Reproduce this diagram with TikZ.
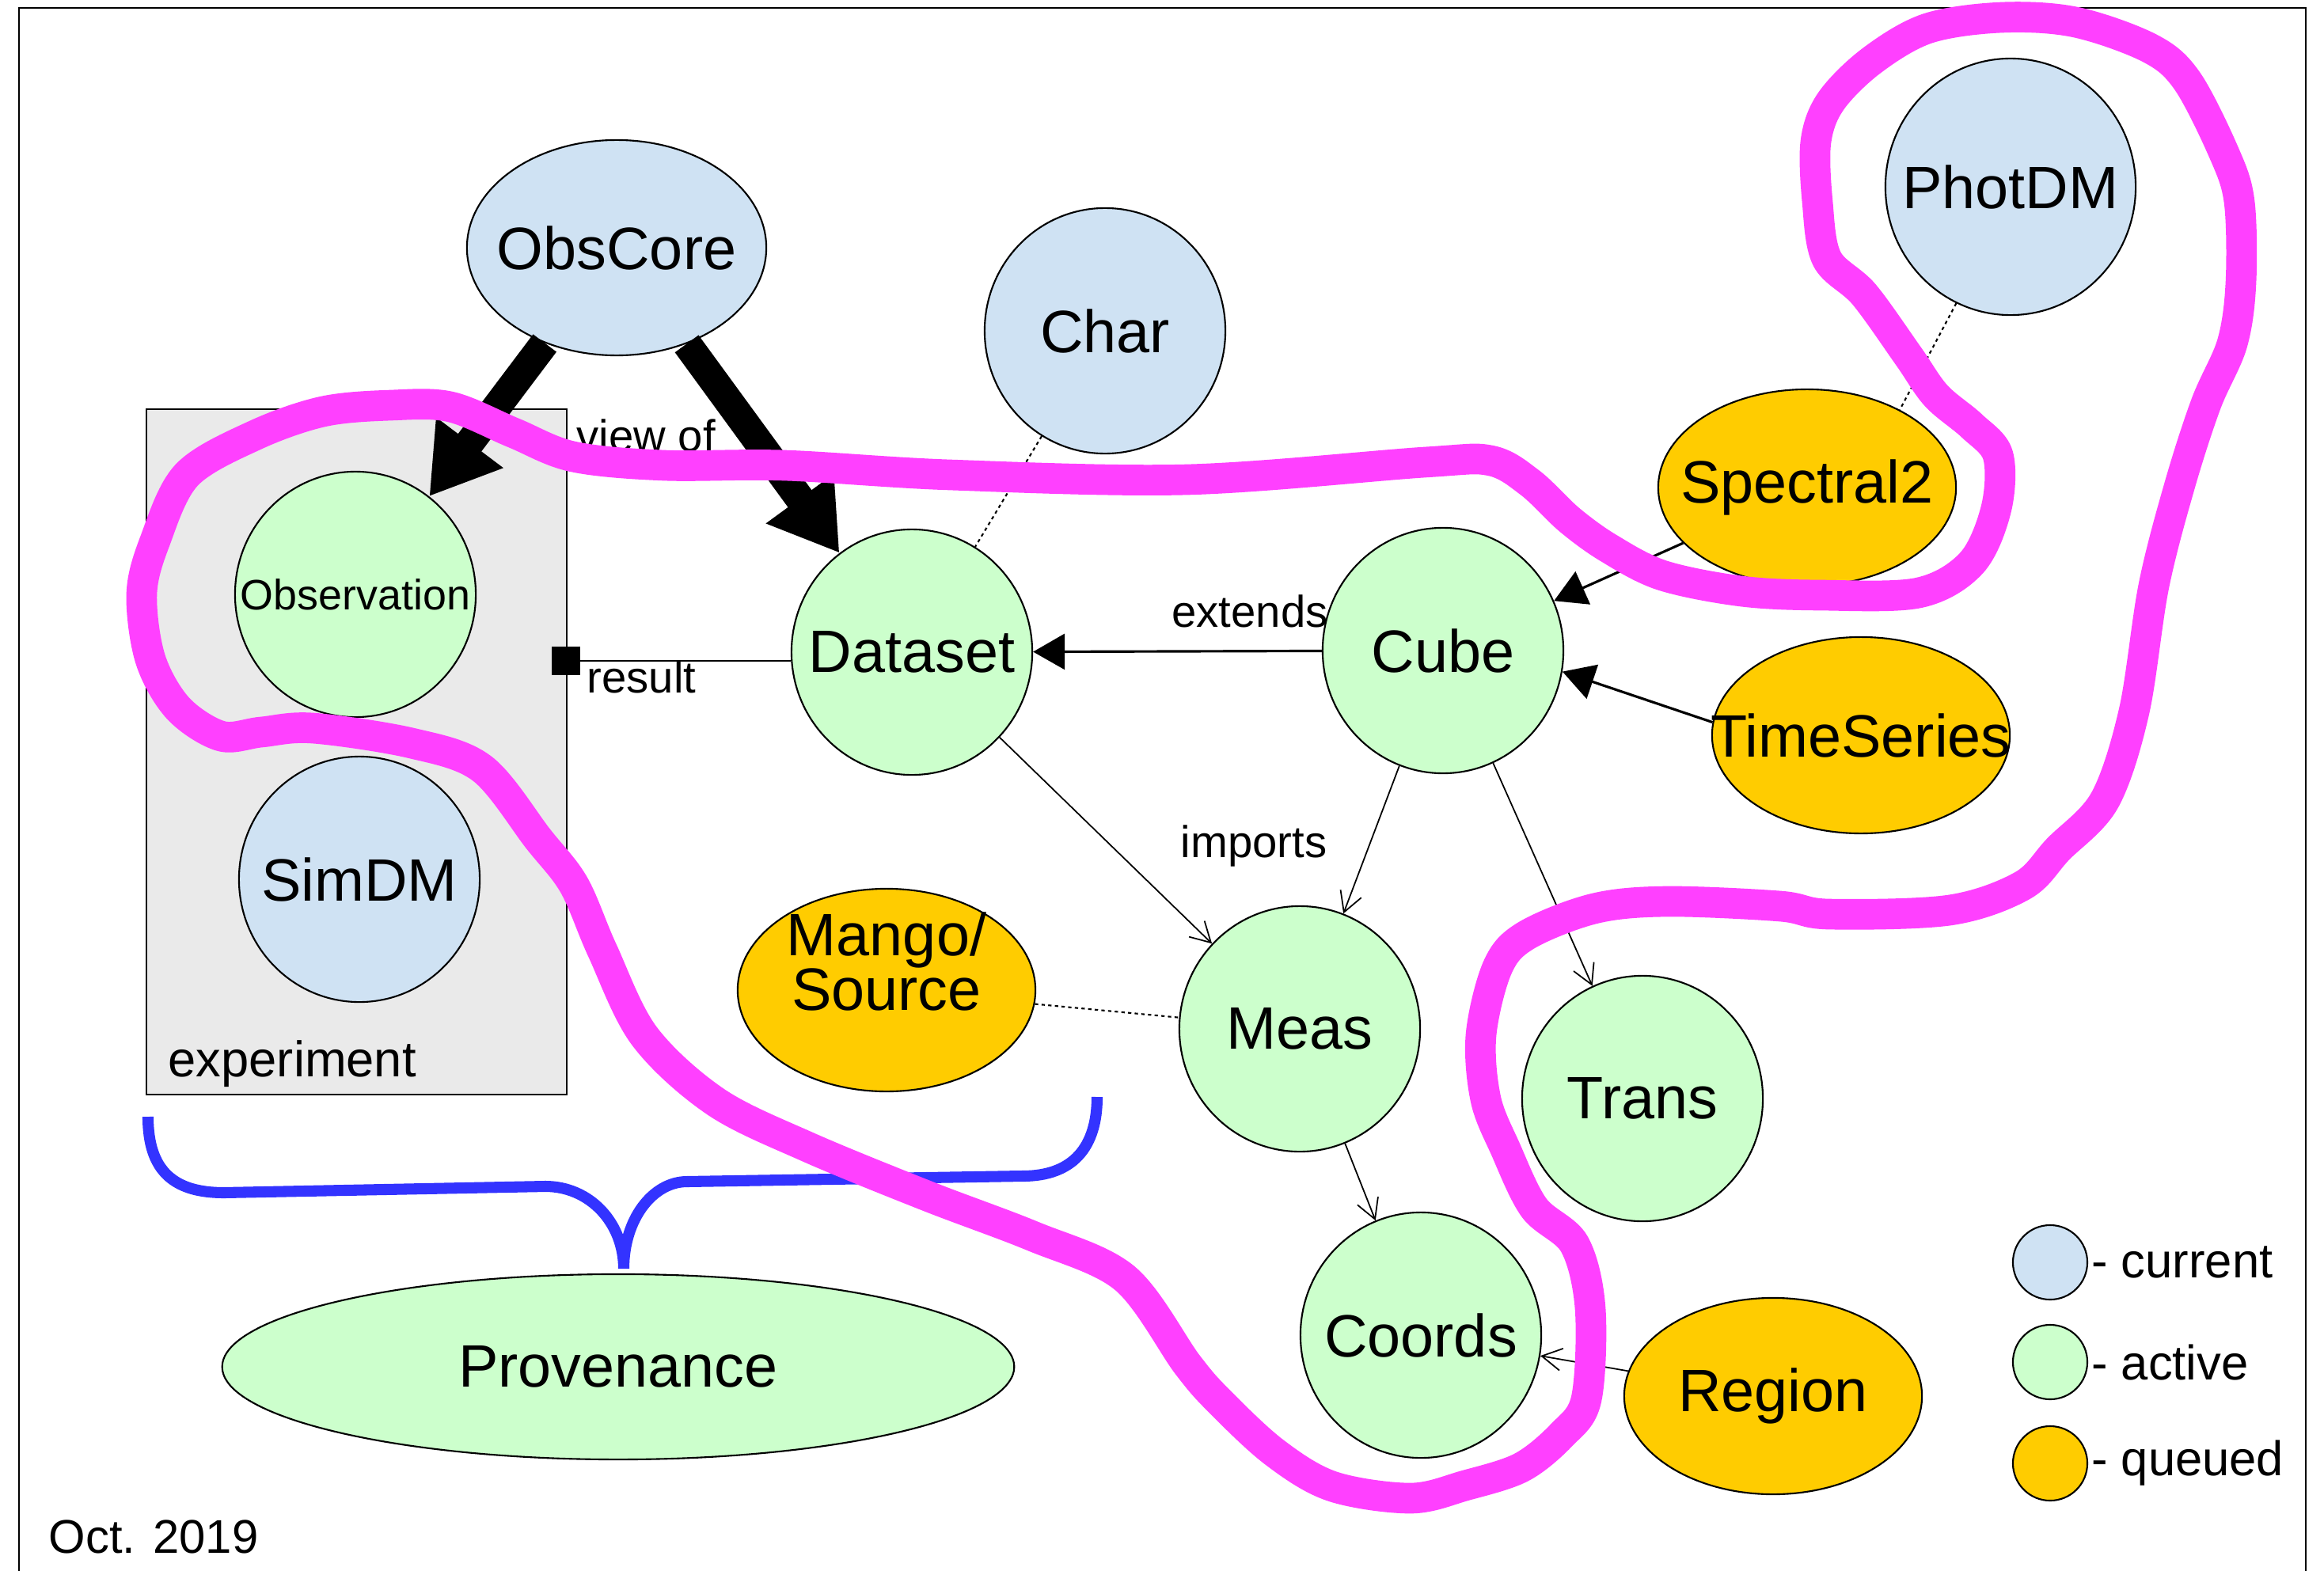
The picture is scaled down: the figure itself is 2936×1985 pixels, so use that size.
\documentclass[tikz,border=0pt]{standalone}
\usepackage{fontspec}
\setmainfont{Liberation Sans}
\usetikzlibrary{shapes.geometric,arrows.meta}
\definecolor{curblue}{RGB}{207,226,243}
\definecolor{actgreen}{RGB}{204,255,204}
\definecolor{quegold}{RGB}{255,204,0}
\definecolor{hilite}{RGB}{255,64,255}
\definecolor{bracblue}{RGB}{51,51,255}
\definecolor{boxgray}{RGB}{234,234,234}
\newcommand{\nm}[1]{\makebox[0pt]{#1}}
\tikzset{
    mdl/.style={ellipse,draw=black,line width=.6pt,inner sep=0pt,
        font=\fontsize{21.5}{24}\selectfont},
    cur/.style={mdl,fill=curblue},
    act/.style={mdl,fill=actgreen},
    que/.style={mdl,fill=quegold},
    rnd/.style={minimum width=3.04cm,minimum height=3.1cm},
    ovl/.style={minimum width=3.76cm,minimum height=2.48cm},
    lbl/.style={font=\fontsize{16}{18}\selectfont,inner sep=0pt},
    viewarr/.style={line width=10.5pt,-{Triangle[length=.85cm,width=1cm]}},
    extarr/.style={line width=.9pt,-{Triangle[length=.4cm,width=.45cm]}},
    imparr/.style={line width=.5pt,-{Straight Barb[length=.25cm,width=.28cm]}},
    dotlink/.style={line width=.6pt,dash pattern=on 1.2pt off 1.2pt},
    keydot/.style={circle,draw=black,line width=.6pt,minimum size=.94cm,inner sep=0pt},
    keytxt/.style={font=\fontsize{17.5}{20}\selectfont,inner sep=1pt,anchor=west},
}
\begin{document}
\begin{tikzpicture}[x=.01cm,y=-.01cm]
    \useasboundingbox (0,0) rectangle (2936,1985);
    % khung
    \draw[line width=.8pt] (24,1985)--(24,10)--(2913,10)--(2913,1985);
    % hop experiment
    \draw[fill=boxgray,line width=.6pt] (185,517) rectangle (716,1383);
    \node[anchor=base west,inner sep=0pt,font=\fontsize{18}{20}\selectfont]
        (explbl) at (212,1360) {experiment};
    % cac mo hinh
    \node[cur,minimum width=3.78cm,minimum height=2.72cm] (obscore) at (779,313) {\nm{ObsCore}};
    \node[cur,rnd] (char) at (1396,418) {\nm{Char}};
    \node[cur,minimum width=3.16cm,minimum height=3.24cm] (photdm) at (2540,236) {\nm{PhotDM}};
    \node[act,rnd,font=\fontsize{15.3}{17}\selectfont] (obs) at (449,751) {\nm{Observation}};
    \node[cur,rnd] (simdm) at (454,1111) {\nm{SimDM}};
    \node[act,rnd] (dataset) at (1152,824) {\nm{Dataset}};
    \node[act,rnd] (cube) at (1823,822) {\nm{Cube}};
    \node[que,ovl] (spec) at (2283,616) {\nm{Spectral2}};
    \node[que,ovl] (tseries) at (2351,929) {\nm{TimeSeries}};
    \node[que,ovl,minimum height=2.56cm] (mango) at (1120,1251) {};
    \node[align=center,anchor=north,inner sep=0pt,font=\fontsize{21.5}{19.5}\selectfont]
        (mangotxt) at (1120,1152) {Mango/\\Source};
    \node[act,rnd] (meas) at (1642,1300) {\nm{Meas}};
    \node[act,rnd] (trans) at (2075,1388) {\nm{Trans}};
    \node[act,rnd] (coords) at (1795,1687) {\nm{Coords}};
    \node[que,ovl] (region) at (2240,1764) {\nm{Region}};
    \node[act,minimum width=10cm,minimum height=2.34cm] (prov) at (781,1727) {\nm{Provenance}};
    % lien ket
    \draw[viewarr] (obscore)--(obs);
    \draw[viewarr] (obscore)--(dataset);
    \node[lbl,anchor=base west] (viewlbl) at (728,570) {view of};
    \node[fill=black,minimum size=.35cm,inner sep=0pt] (res) at (715,835) {};
    \draw[line width=.7pt] (res)--(res -| dataset.west);
    \node[lbl,anchor=base west] (reslbl) at (741,875) {result};
    \draw[extarr] (cube)--(dataset);
    \node[lbl,anchor=base] (extlbl) at (1579,792) {extends};
    \draw[extarr] (spec)--(cube);
    \draw[extarr] (tseries.175)--(cube.350);
    \draw[imparr] (dataset)--(meas);
    \draw[imparr] (cube)--(meas);
    \node[lbl,anchor=base] (implbl) at (1584,1083) {imports};
    \draw[imparr] (cube)--(trans);
    \draw[imparr] (meas)--(coords);
    \draw[imparr] (region)--(coords);
    \draw[dotlink] (char)--(dataset);
    \draw[dotlink] (photdm.245)--(spec.40);
    \draw[dotlink] (mango)--(meas);
    % chu thich
    \node[keydot,fill=curblue] (kcur) at (2590,1595) {};
    \node[keydot,fill=actgreen] (kact) at (2590,1721) {};
    \node[keydot,fill=quegold] (kque) at (2590,1849) {};
    \node[keytxt] (tcur) at (kcur.east) {- current};
    \node[keytxt] (tact) at (kact.east) {- active};
    \node[keytxt] (tque) at (kque.east) {- queued};
    \node[anchor=base west,inner sep=0pt,font=\fontsize{17}{19}\selectfont]
        (date) at (61,1962) {Oct. 2019};
    % ngoac xanh
    \draw[draw=bracblue,line width=4pt]
        (187,1411) .. controls (187,1480) and (220,1507) .. (283,1507)
        --(689,1499) .. controls (745,1499) and (788,1545) .. (788,1603)
        .. controls (788,1540) and (825,1493) .. (868,1493)
        --(1292,1486) .. controls (1355,1486) and (1386,1450) .. (1386,1386);
    % duong tim
    \draw[hilite,line width=11pt,line join=round]
        plot[smooth cycle,tension=.55] coordinates {
        (569,514) (649,547) (724,577) (839,588) (991,588) (1200,600)
        (1500,606) (1800,584) (1883,582) (1933,610) (1983,657) (2033,693)
        (2100,727) (2200,747) (2300,752) (2424,749) (2491,711) (2522,642)
        (2524,575) (2491,538) (2446,500) (2411,450) (2355,372) (2308,327)
        (2296,255) (2294,179) (2313,128) (2364,77) (2435,36) (2529,22)
        (2622,28) (2716,61) (2763,102) (2810,194) (2829,255) (2831,357)
        (2820,434) (2787,510) (2754,612) (2721,740) (2696,899) (2659,1011)
        (2600,1073) (2555,1119) (2463,1150) (2310,1155) (2249,1145) (2106,1139)
        (2014,1148) (1928,1182) (1892,1222) (1871,1308) (1877,1389) (1902,1452)
        (1938,1526) (1989,1572) (2009,1653) (2004,1768) (1973,1813) (1922,1854)
        (1851,1877) (1782,1893) (1683,1878) (1610,1835) (1540,1770) (1500,1724)
        (1421,1615) (1305,1562) (1171,1511) (1020,1449) (904,1392) (814,1309)
        (761,1201) (725,1118) (680,1060) (609,971) (520,939) (395,920)
        (330,925) (279,930) (225,895) (190,833) (179,750) (196,683)
        (236,600) (322,550) (408,520) (494,512)};
\end{tikzpicture}
\end{document}
